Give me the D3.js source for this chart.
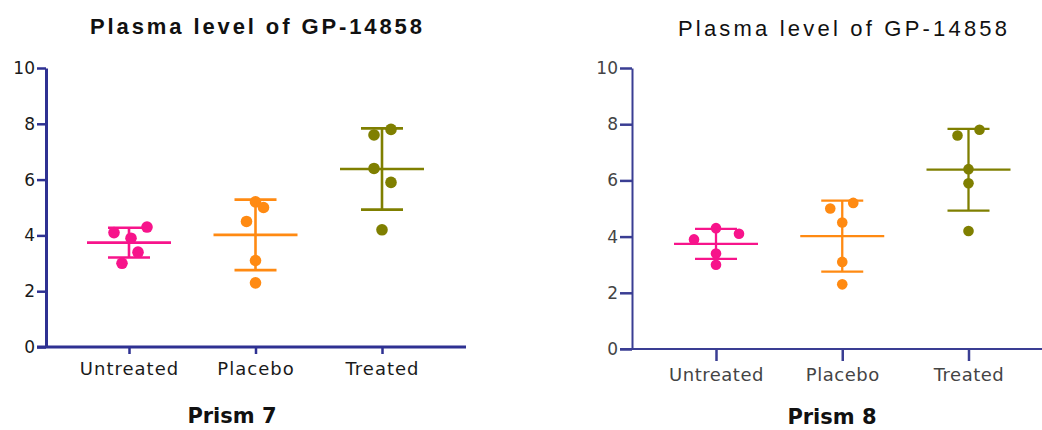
<!DOCTYPE html>
<html>
<head>
<meta charset="utf-8">
<script src="https://cdn.jsdelivr.net/npm/d3@7"></script>
<style>
  html, body { margin: 0; padding: 0; background: #fff; }
  svg { display: block; }
</style>
</head>
<body>
<svg id="chart" width="1042" height="430"></svg>
<script>
// values
const categories = ['Untreated', 'Placebo', 'Treated']
const untreated = [4.1, 4.3, 3.9, 3.4, 3.0]
const placebo = [5.2, 5.0, 4.5, 3.1, 2.3]
const treated = [7.8, 7.6, 6.4, 5.9, 4.2]
const yTicks = [0, 2, 4, 6, 8, 10]
const groupColors = ['#f7148b', '#ff8a12', '#7f7f00']
const title = 'Plasma level of GP-14858'
const panelNames = ['Prism 7', 'Prism 8']

// horizontal scatter of the dots (px), one row per group
const jitter7 = [[-15, 18, 2, 9, -7], [0, 8, -9, 0, 0], [9, -8, -8, 9, 0]]
const jitter8 = [[23, 0, -22, 0, 0], [11, -12, 0, 0, 0], [11, -11, 0, 0, 0]]

const groups = [untreated, placebo, treated]
const svg = d3.select('#chart')

function drawPanel(o) {
  const g = svg.append('g')
  const x = d3.scalePoint().domain(categories).range(o.xRange)
  const y = d3.scaleLinear().domain([0, 10]).range(o.yRange)

  // title
  g.append('text')
    .attr('x', o.titleX).attr('y', o.titleY)
    .attr('textLength', o.titleW).attr('lengthAdjust', 'spacing')
    .style('font-family', 'Liberation Sans, Arial, sans-serif')
    .style('font-size', '22px')
    .style('font-weight', o.titleWeight)
    .style('fill', '#111')
    .text(title)

  // y axis
  const ya = g.append('g')
    .attr('transform', 'translate(' + o.axisX + ',0)')
    .call(d3.axisLeft(y).tickValues(yTicks).tickSize(o.yTick).tickSizeOuter(0).tickPadding(2))
  ya.select('.domain').attr('stroke', o.axisColor).attr('stroke-width', o.axisW)
  ya.selectAll('.tick line').attr('stroke', o.axisColor).attr('stroke-width', o.tickW)
  ya.selectAll('.tick text')
    .style('font-family', 'DejaVu Sans, sans-serif')
    .style('font-size', '17px')
    .style('fill', o.textColor)

  // x axis baseline + ticks
  g.append('line')
    .attr('x1', o.axisX - o.yTick).attr('x2', o.xEnd)
    .attr('y1', y(0)).attr('y2', y(0))
    .attr('stroke', o.axisColor).attr('stroke-width', o.axisW)
  const xa = g.append('g')
    .attr('transform', 'translate(0,' + y(0) + ')')
    .call(d3.axisBottom(x).tickSize(o.xTick).tickPadding(o.xPad))
  xa.select('.domain').remove()
  xa.selectAll('.tick line').attr('stroke', o.axisColor).attr('stroke-width', o.tickW)
  xa.selectAll('.tick text')
    .style('font-family', 'DejaVu Sans, sans-serif')
    .style('font-size', '18px')
    .style('letter-spacing', o.labelSpacing)
    .style('fill', o.textColor)

  // groups: dots, mean and SD
  groups.forEach(function(vals, i) {
    const cx = x(categories[i])
    const col = groupColors[i]
    const m = d3.mean(vals)
    const sd = d3.deviation(vals)
    const gg = g.append('g')

    gg.selectAll('circle')
      .data(vals)
      .enter().append('circle')
        .attr('cx', function(d, j) { return cx + o.jitter[i][j] })
        .attr('cy', function(d) { return y(d) })
        .attr('r', o.r)
        .attr('fill', col)

    gg.append('line')
      .attr('x1', cx).attr('x2', cx)
      .attr('y1', y(m + sd)).attr('y2', y(m - sd))
      .attr('stroke', col).attr('stroke-width', o.barW)
    gg.append('line')
      .attr('x1', cx - 42).attr('x2', cx + 42)
      .attr('y1', y(m)).attr('y2', y(m))
      .attr('stroke', col).attr('stroke-width', o.barW)
    ;[m + sd, m - sd].forEach(function(v) {
      gg.append('line')
        .attr('x1', cx - 21).attr('x2', cx + 21)
        .attr('y1', y(v)).attr('y2', y(v))
        .attr('stroke', col).attr('stroke-width', o.barW)
    })
  })

  // caption under the panel
  g.append('text')
    .attr('x', o.capX).attr('y', o.capY)
    .attr('text-anchor', 'middle')
    .style('font-family', 'DejaVu Sans, sans-serif')
    .style('font-size', '21px')
    .style('font-weight', 'bold')
    .style('fill', '#111')
    .text(o.caption)
}

drawPanel({
  xRange: [129, 382], yRange: [347, 68], axisX: 46, xEnd: 466,
  titleX: 90, titleY: 34, titleW: 332, titleWeight: 'bold',
  axisColor: '#2e3192', axisW: 3, tickW: 2.5, yTick: 9, xTick: 7, xPad: 8,
  textColor: '#1a1a1a', labelSpacing: '1px',
  r: 5.8, barW: 2.6, jitter: jitter7,
  caption: panelNames[0], capX: 232, capY: 423
})

drawPanel({
  xRange: [716, 968.5], yRange: [349, 68], axisX: 632, xEnd: 1042,
  titleX: 678, titleY: 36, titleW: 329, titleWeight: 'normal',
  axisColor: '#3a3e93', axisW: 2, tickW: 2.5, yTick: 12, xTick: 12, xPad: 7,
  textColor: '#444', labelSpacing: '0.5px',
  r: 5.3, barW: 2.3, jitter: jitter8,
  caption: panelNames[1], capX: 832, capY: 424
})
</script>
</body>
</html>
